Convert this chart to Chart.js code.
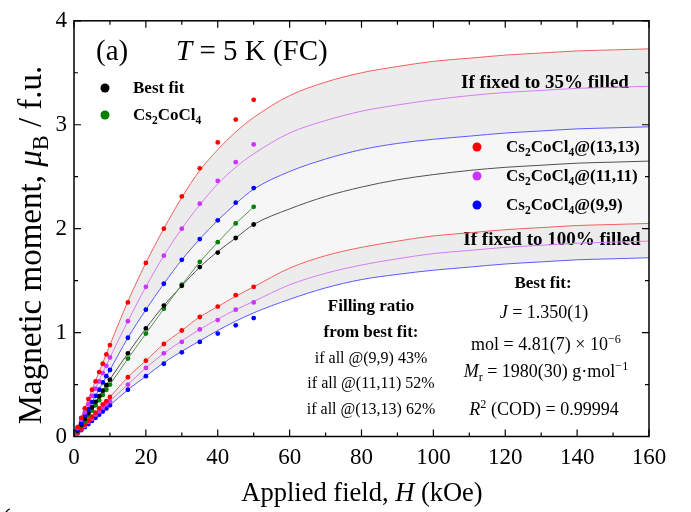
<!DOCTYPE html>
<html><head><meta charset="utf-8">
<script src="https://cdn.jsdelivr.net/npm/chart.js@4/dist/chart.umd.min.js"></script>
<style>html,body{margin:0;padding:0;background:#fff;}#wrap{width:691px;height:512px;}</style>
</head><body><div id="wrap"><canvas id="c" width="691" height="512"></canvas></div>
<script>
// ---- measured points (kOe) ----
const fieldPts = [1,2,3,4,5,6,7,8,9,10,15,20,25,30,35,40,45,50];
const bestFitPts   = [0.057,0.113,0.169,0.224,0.280,0.334,0.388,0.441,0.494,0.547,0.80,1.04,1.26,1.45,1.63,1.77,1.91,2.04];
const cs2cocl4Pts  = [0.05,0.10,0.15,0.20,0.25,0.30,0.35,0.40,0.45,0.50,0.75,0.99,1.23,1.46,1.68,1.87,2.05,2.21];
const red35Pts     = [0.09,0.18,0.27,0.36,0.45,0.53,0.62,0.70,0.79,0.88,1.29,1.67,2.00,2.31,2.58,2.83,3.05,3.24];
const mag35Pts     = [0.08,0.16,0.23,0.31,0.39,0.46,0.53,0.61,0.68,0.76,1.11,1.44,1.74,2.00,2.24,2.46,2.64,2.81];
const blue35Pts    = [0.066,0.13,0.20,0.26,0.33,0.39,0.45,0.52,0.58,0.64,0.95,1.22,1.47,1.70,1.90,2.08,2.25,2.39];
const red100Pts    = [0.039,0.077,0.116,0.154,0.19,0.23,0.27,0.31,0.34,0.38,0.57,0.73,0.89,1.02,1.15,1.25,1.36,1.44];
const mag100Pts    = [0.035,0.07,0.10,0.14,0.17,0.21,0.24,0.28,0.31,0.34,0.50,0.66,0.80,0.91,1.03,1.12,1.22,1.29];
const blue100Pts   = [0.031,0.061,0.09,0.12,0.15,0.18,0.21,0.24,0.27,0.30,0.45,0.58,0.70,0.81,0.91,0.99,1.07,1.14];

// ---- fitted curves ----
const fieldCurve = [0,5,10,15,20,25,30,35,40,45,50,60,70,80,90,100,110,120,130,140,150,160];
const red35Curve   = [0,0.45,0.88,1.30,1.67,2.00,2.30,2.56,2.76,2.93,3.07,3.28,3.41,3.50,3.56,3.61,3.64,3.67,3.69,3.71,3.72,3.73];
const mag35Curve   = [0,0.39,0.76,1.11,1.44,1.74,2.00,2.23,2.43,2.59,2.72,2.92,3.04,3.13,3.19,3.24,3.28,3.31,3.33,3.35,3.36,3.37];
const blue35Curve  = [0,0.33,0.64,0.95,1.22,1.47,1.70,1.90,2.08,2.24,2.38,2.55,2.67,2.76,2.82,2.86,2.89,2.92,2.94,2.96,2.97,2.98];
const bestFitCurve = [0,0.28,0.55,0.80,1.04,1.26,1.45,1.63,1.78,1.91,2.04,2.19,2.31,2.40,2.47,2.52,2.56,2.59,2.61,2.63,2.64,2.65];
const red100Curve  = [0,0.19,0.38,0.57,0.73,0.89,1.02,1.15,1.25,1.35,1.44,1.62,1.74,1.82,1.88,1.93,1.96,1.99,2.01,2.03,2.04,2.05];
const mag100Curve  = [0,0.17,0.34,0.50,0.66,0.80,0.92,1.03,1.13,1.22,1.30,1.46,1.57,1.65,1.71,1.76,1.79,1.82,1.84,1.86,1.87,1.88];
const blue100Curve = [0,0.15,0.30,0.45,0.58,0.71,0.82,0.92,1.02,1.11,1.19,1.32,1.43,1.51,1.56,1.60,1.63,1.66,1.68,1.70,1.71,1.72];

const xTicks = [0,20,40,60,80,100,120,140,160];
const yTicks = [0,1,2,3,4];

const SERIF = '"Liberation Serif","DejaVu Serif",serif';
const C_RED='#ff0000', C_MAG='#cc33ff', C_BLUE='#0000ff', C_GREEN='#008000';

const xy = (xs, ys) => xs.map((x,i)=>({x, y: ys[i]}));
function curve(ys, color, fill){
  return {data: xy(fieldCurve, ys), borderColor: color, borderWidth: 1, pointRadius: 0,
    cubicInterpolationMode: 'monotone', fill: fill || false, order: 2};
}
function pts(ys, color){
  return {data: xy(fieldPts, ys), showLine: false, pointRadius: 2.4, pointBorderWidth: 0,
    pointBackgroundColor: color, backgroundColor: color, borderColor: color, order: 0};
}
const datasets = [
  curve(red35Curve, '#f06060', {target: 2, above: '#ececec', below: '#ececec'}),
  curve(mag35Curve, '#d67cf0'),
  curve(blue35Curve, '#5a5aff', {target: 4, above: '#f6f6f6', below: '#f6f6f6'}),
  curve(bestFitCurve, '#505050'),
  curve(red100Curve, '#f06060', {target: 6, above: '#ececec', below: '#ececec'}),
  curve(mag100Curve, '#d67cf0'),
  curve(blue100Curve, '#5a5aff'),
  {data: [{x:0,y:0}].concat(xy(fieldPts, cs2cocl4Pts)), borderColor: '#5f8f5f', borderWidth: 1, pointRadius: 0, tension: 0, fill: false, order: 1},
  pts(red35Pts, C_RED), pts(mag35Pts, C_MAG), pts(blue35Pts, C_BLUE),
  pts(bestFitPts, '#000'), pts(cs2cocl4Pts, C_GREEN),
  pts(red100Pts, C_RED), pts(mag100Pts, C_MAG), pts(blue100Pts, C_BLUE)
];

function drawRich(ctx, segs, x, y, size, align){
  const parts = segs.map(s => {
    const t = s[0], f = s[1] || '';
    const sub = f.includes('_'), sup = f.includes('^');
    const sz = (sub||sup) ? size*0.68 : size;
    const font = (f.includes('i')?'italic ':'') + (f.includes('b')?'bold ':'') + sz + 'px ' + SERIF;
    ctx.font = font;
    return {t, font, w: ctx.measureText(t).width, dy: sub ? size*0.22 : (sup ? -size*0.4 : 0)};
  });
  const total = parts.reduce((a,p)=>a+p.w, 0);
  let cx = align==='center' ? x - total/2 : (align==='right' ? x - total : x);
  ctx.textAlign = 'left'; ctx.textBaseline = 'alphabetic';
  for (const p of parts){ ctx.font = p.font; ctx.fillText(p.t, cx, y + p.dy); cx += p.w; }
}

const textPlugin = {
  id: 'texts',
  beforeDatasetsDraw(chart){
    const ctx = chart.ctx; ctx.save(); ctx.fillStyle = '#000';
    drawRich(ctx, [['If fixed to 35% filled','b']], 545, 88, 19, 'center');
    drawRich(ctx, [['If fixed to 100% filled','b']], 552, 245, 19, 'center');
    ctx.restore();
  },
  afterDraw(chart){
    const ctx = chart.ctx, xs = chart.scales.x, ys = chart.scales.y, a = chart.chartArea;
    ctx.save();
    // frame
    ctx.strokeStyle = '#000'; ctx.lineWidth = 1.5;
    ctx.strokeRect(a.left, a.top, a.right - a.left, a.bottom - a.top);
    // ticks (inward)
    ctx.lineWidth = 1.2; ctx.beginPath();
    for (let v = 0; v <= 160; v += 10){
      const px = xs.getPixelForValue(v), L = (v % 20 === 0) ? 7 : 4;
      ctx.moveTo(px, a.bottom); ctx.lineTo(px, a.bottom - L);
      ctx.moveTo(px, a.top); ctx.lineTo(px, a.top + L);
    }
    for (let v = 0; v <= 4; v += 0.5){
      const py = ys.getPixelForValue(v), L = (v % 1 === 0) ? 7 : 4;
      ctx.moveTo(a.left, py); ctx.lineTo(a.left + L, py);
      ctx.moveTo(a.right, py); ctx.lineTo(a.right - L, py);
    }
    ctx.stroke();
    ctx.fillStyle = '#000';
    // title
    drawRich(ctx, [['(a)']], 96, 60, 29, 'left');
    drawRich(ctx, [['T','i'],[' = 5 K (FC)']], 176, 60, 29, 'left');
    // legends
    const dot = (x,y,c,r)=>{ctx.fillStyle=c; ctx.beginPath(); ctx.arc(x,y,r,0,Math.PI*2); ctx.fill(); ctx.fillStyle='#000';};
    dot(105, 88, '#000', 4.5); drawRich(ctx, [['Best fit','b']], 133, 93, 17, 'left');
    dot(105, 115, C_GREEN, 4.5); drawRich(ctx, [['Cs','b'],['2','b_'],['CoCl','b'],['4','b_']], 133, 120, 17, 'left');
    const leg = [[147, C_RED, '(13,13)'], [176, C_MAG, '(11,11)'], [205, C_BLUE, '(9,9)']];
    for (const [yy, c, lab] of leg){
      dot(477, yy, c, 4.5);
      drawRich(ctx, [['Cs','b'],['2','b_'],['CoCl','b'],['4','b_'],['@'+lab,'b']], 506, yy+5, 17, 'left');
    }
    // filling ratio
    drawRich(ctx, [['Filling ratio','b']], 371, 311, 17, 'center');
    drawRich(ctx, [['from best fit:','b']], 371, 337, 17, 'center');
    drawRich(ctx, [['if all @(9,9) 43%']], 371, 363, 16, 'center');
    drawRich(ctx, [['if all @(11,11) 52%']], 371, 388, 16, 'center');
    drawRich(ctx, [['if all @(13,13) 62%']], 371, 414, 16, 'center');
    // best fit params
    drawRich(ctx, [['Best fit:','b']], 543, 288, 17, 'center');
    drawRich(ctx, [['J','i'],[' = 1.350(1)']], 544, 318, 18, 'center');
    drawRich(ctx, [['mol = 4.81(7) \u00d7 10'],['\u22126','^']], 546, 350, 18, 'center');
    drawRich(ctx, [['M','i'],['r','_'],[' = 1980(30) g\u00b7mol'],['\u22121','^']], 546, 377, 18, 'center');
    drawRich(ctx, [['R','i'],['2','^'],[' (COD) = 0.99994']], 544, 415, 18, 'center');
    // axis titles
    drawRich(ctx, [['Applied field, '],['H','i'],[' (kOe)']], 362, 501, 26.5, 'center');
    ctx.translate(41, 245); ctx.rotate(-Math.PI/2);
    drawRich(ctx, [['Magnetic moment, '],['\u03bc','i'],['B','_'],[' / f.u.']], 0, 0, 33, 'center');
    ctx.restore();
    ctx.save(); ctx.fillStyle='#000'; ctx.font = '26px ' + SERIF; ctx.fillText('(', 2, 526); ctx.restore();
  }
};

new Chart(document.getElementById('c'), {
  type: 'line',
  data: {datasets},
  options: {
    responsive: false, animation: false, devicePixelRatio: 1,
    layout: {padding: {left: 0, right: 42, top: 14, bottom: 0}},
    plugins: {legend: {display: false}, tooltip: {enabled: false}, filler: {drawTime: 'beforeDatasetsDraw'}},
    scales: {
      x: {type: 'linear', min: 0, max: 160,
        afterBuildTicks: s => { s.ticks = xTicks.map(v => ({value: v})); },
        ticks: {color: '#000', font: {family: SERIF, size: 23}, padding: 8, maxRotation: 0, autoSkip: false},
        grid: {display: false, drawTicks: false}, border: {display: false},
        afterFit: s => { s.height = 75.5; }},
      y: {type: 'linear', min: 0, max: 4,
        afterBuildTicks: s => { s.ticks = yTicks.map(v => ({value: v})); },
        ticks: {color: '#000', font: {family: SERIF, size: 23}, padding: 7},
        grid: {display: false, drawTicks: false}, border: {display: false},
        afterFit: s => { s.width = 74; }}
    }
  },
  plugins: [textPlugin]
});
</script></body></html>
